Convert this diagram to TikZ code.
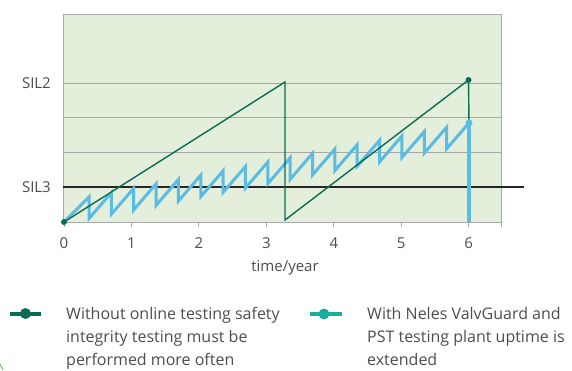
\documentclass[tikz,border=0pt]{standalone}
\usepackage{fontspec}
\setmainfont{Open Sans}
\definecolor{bgg}{HTML}{E3EFDA}
\definecolor{dkg}{HTML}{0B6B55}
\definecolor{skyb}{HTML}{5CBBE2}
\definecolor{tealc}{HTML}{1AAE9F}
\definecolor{gridg}{HTML}{A8A8A8}
\definecolor{txtg}{HTML}{4D4D4D}
\begin{document}
\begin{tikzpicture}[x=1pt,y=-1pt,
  lbl/.style={font=\fontsize{15}{23}\selectfont,text=txtg,inner sep=0pt},
  legtxt/.style={font=\fontsize{16}{23}\selectfont,text=txtg,inner sep=0pt,align=left,anchor=base west},
  gridline/.style={draw=gridg,line width=0.9pt},
  tickline/.style={draw=gridg,line width=0.9pt},
  saw/.style={draw=dkg,line width=1.4pt},
  zig/.style={draw=skyb,line width=3pt,line join=miter},
  dotg/.style={circle,fill=dkg,inner sep=0pt,minimum size=6pt},
  dotb/.style={circle,fill=skyb,inner sep=0pt,minimum size=7pt}]
\useasboundingbox (0,0) rectangle (572,370);
% plot area
\fill[bgg] (63,14) rectangle (501,222);
\draw[gridg,line width=0.9pt] (63,222) -- (63,14) -- (501,14) -- (501,227);
\draw[gridline] (63,83) -- (501,83);
\draw[gridline] (63,117) -- (501,117);
\draw[gridline] (63,152) -- (501,152);
\draw[gridline] (63,222) -- (501,222);
\draw[black!85,line width=1.1pt] (63,187) -- (524,187);
% ticks and labels
\foreach \t in {0,...,6}{
  \draw[tickline] ({64+67.45*\t},222) -- ({64+67.45*\t},227);
  \node[lbl] (tick\t) at ({64+67.45*\t},243) {\t};
}
\node[lbl] (xlab) at (285,268) {time/year};
\node[lbl,anchor=east] (sil2) at (51,83) {SIL2};
\node[lbl,anchor=east] (sil3) at (51,187) {SIL3};
% blue zigzag
\draw[zig] (64,222) foreach \k in {1,...,17} { -- ({89+22.35*(\k-1)},{197-4.358*(\k-1)}) -- ++(0,21.5) } -- (469,123);
% green sawtooth
\coordinate (g0) at (64,222);
\coordinate (g1) at (285,82);
\coordinate (g2) at (285,220);
\coordinate (g3) at (468.5,80);
\coordinate (b3) at (469,123);
\coordinate (b4) at (469,222);
\draw[saw] (g0) -- (g1) -- (g2) -- (g3) -- (b3);
\draw[skyb,line width=3.6pt] (b3) -- (b4);
\node[dotg] (d0) at (g0) {};
\node[dotg] (d3) at (g3) {};
\node[dotb] (d4) at (b3) {};
% legend
\draw[dkg,line width=4pt] (10,313.5) -- (41,313.5);
\node[circle,fill=dkg,inner sep=0pt,minimum size=11pt] (leg1) at (25.5,313.5) {};
\draw[tealc,line width=4pt] (310,314) -- (342,314);
\node[circle,fill=tealc,inner sep=0pt,minimum size=11pt] (leg2) at (324,314) {};
\node[legtxt] (t1) at (66,365) {Without online testing safety\\integrity testing must be\\performed more often};
\node[legtxt] (t2) at (367,365) {With Neles ValvGuard and\\PST testing plant uptime is\\extended};
% corner fragment
\draw[green!60!black!60,line width=1pt] (0,364) -- (3,370);
\end{tikzpicture}
\end{document}
